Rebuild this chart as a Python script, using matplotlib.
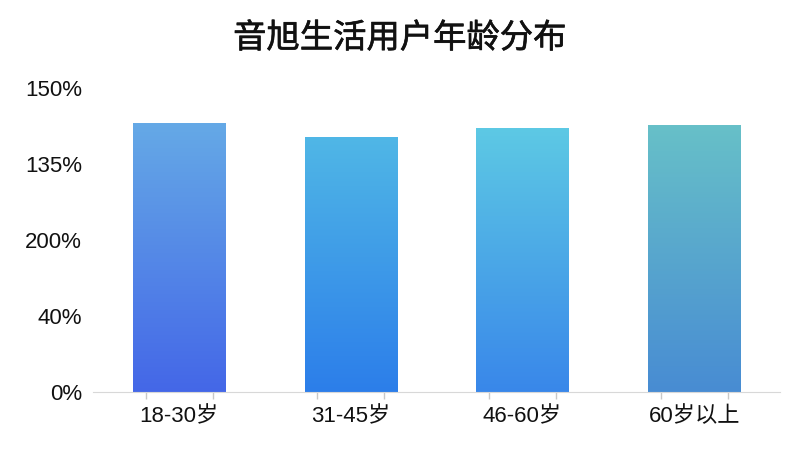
import numpy as np
import matplotlib
matplotlib.use("Agg")
import matplotlib.pyplot as plt
import matplotlib.patheffects as pe
from matplotlib.colors import LinearSegmentedColormap

plt.rcParams['font.family'] = ['Liberation Sans', 'Noto Sans CJK SC', 'DejaVu Sans']

title = "音旭生活用户年龄分布"
categories = ["18-30岁", "31-45岁", "46-60岁", "60岁以上"]
values = [3.54, 3.36, 3.47, 3.51]
ytick_pos = [0, 1, 2, 3, 4]
ytick_labels = ["0%", "40%", "200%", "135%", "150%"]

# gradient colours per bar (bottom, top)
bar_colors = [("#4467E8", "#65A9E6"),
              ("#2C7EEA", "#50B7E6"),
              ("#3987EA", "#5DC9E4"),
              ("#488CD3", "#67C0C8")]

fig = plt.figure(figsize=(8, 4.5), dpi=100)
ax = fig.add_axes([0.1165, 0.129, 0.8585, 0.675])

x = np.arange(len(categories))
bars = ax.bar(x, values, width=0.536, color="none", edgecolor="none")

grad = np.linspace(0, 1, 256).reshape(-1, 1)
for b, (c0, c1) in zip(bars, bar_colors):
    cmap = LinearSegmentedColormap.from_list("g", [c0, c1])
    x0, w, h = b.get_x(), b.get_width(), b.get_height()
    im = ax.imshow(grad, cmap=cmap, origin="lower", aspect="auto",
                   extent=[x0, x0 + w, 0, h], zorder=2)
    im.set_clip_path(b)

ax.set_xlim(-0.5, len(categories) - 0.5)
ax.set_ylim(0, 4)
ax.set_yticks(ytick_pos)
ax.set_yticklabels(ytick_labels, fontsize=16, color="#111111")
ax.set_xticks(x)
ax.set_xticklabels(categories, fontsize=16, color="#111111")
ax.tick_params(axis="y", length=0, pad=8)
ax.tick_params(axis="x", length=0, pad=10)
ax.set_xticks(np.concatenate([x - 0.195, x + 0.195]), minor=True)
ax.tick_params(axis="x", which="minor", length=5, width=1, color="#c8c8c8")

for s in ["top", "right", "left"]:
    ax.spines[s].set_visible(False)
ax.spines["bottom"].set_color("#d8d8d8")

fig.text(0.5, 0.915, title, ha="center", va="center", fontsize=24,
         color="#111111", family=['Noto Sans CJK SC', 'DejaVu Sans'],
         path_effects=[pe.withStroke(linewidth=0.45, foreground="#111111")])

fig.savefig("out.png", dpi=100)
